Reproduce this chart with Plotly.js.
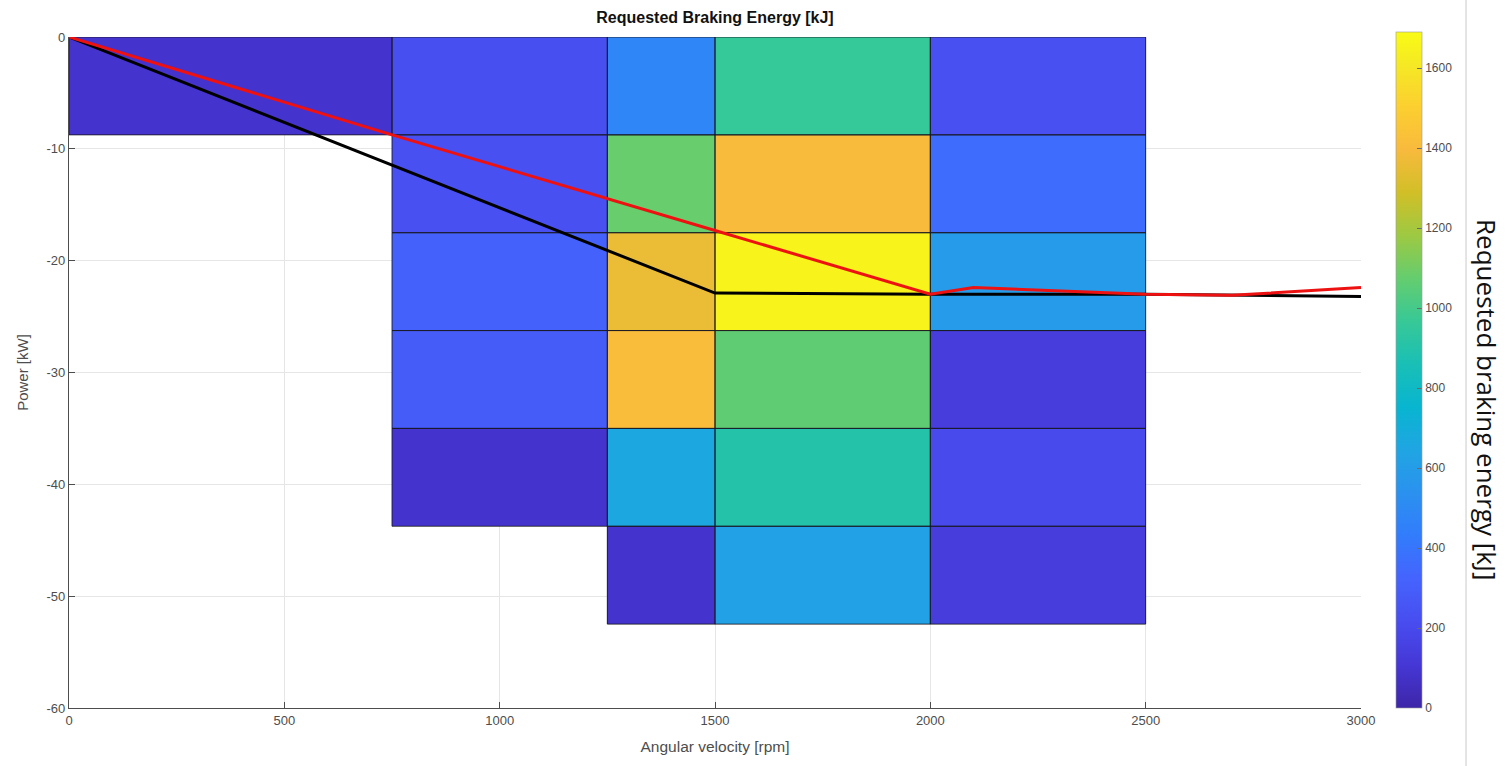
<!DOCTYPE html>
<html>
<head>
<meta charset="utf-8">
<script src="https://cdn.plot.ly/plotly-3.0.1.min.js"></script>
<style>
  html, body { margin: 0; padding: 0; background: #ffffff; }
  #chart { width: 1506px; height: 766px; }
</style>
</head>
<body>
<div id="chart"></div>
<script>
// Speed bin edges [rpm] and power bin edges [kW] (ascending)
const speedEdges = [0, 750, 1250, 1500, 2000, 2500];
const powerEdges = [-52.5, -43.75, -35, -26.25, -17.5, -8.75, 0];

// Requested braking energy per bin [kJ]; one row per power band, bottom band first.
// Columns follow the speed bins; null = no braking events in that bin.
const energyBand1 = [null, null, 85, 620, 135];     // -52.5 .. -43.75 kW
const energyBand2 = [null, 85, 660, 900, 200];      // -43.75 .. -35 kW
const energyBand3 = [null, 290, 1410, 1060, 135];   // -35 .. -26.25 kW
const energyBand4 = [null, 310, 1360, 1660, 590];   // -26.25 .. -17.5 kW
const energyBand5 = [null, 230, 1080, 1400, 360];   // -17.5 .. -8.75 kW
const energyBand6 = [85, 225, 480, 960, 230];       // -8.75 .. 0 kW

// Requested braking power curve (red) and available regenerative power limit (black)
const requestSpeed = [0, 750, 1500, 2000, 2100, 2500, 2700, 3000];
const requestPower = [0, -8.75, -17.3, -23.0, -22.4, -23.0, -23.1, -22.4];
const limitSpeed = [0, 1500, 2000, 2500, 3000];
const limitPower = [0, -22.9, -23.0, -23.0, -23.2];

// Axis ticks
const speedTicks = [0, 500, 1000, 1500, 2000, 2500, 3000];
const powerTicks = [-60, -50, -40, -30, -20, -10, 0];
const energyTicks = [0, 200, 400, 600, 800, 1000, 1200, 1400, 1600];

// Parula colormap samples
const parula = [
  [0.2422, 0.1504, 0.6603], [0.2706, 0.2147, 0.8364], [0.2813, 0.3006, 0.9414],
  [0.2699, 0.3892, 0.9906], [0.1963, 0.4847, 0.9892], [0.1687, 0.5703, 0.9359],
  [0.1248, 0.6459, 0.8883], [0.0297, 0.7082, 0.8163], [0.0964, 0.7500, 0.7120],
  [0.2161, 0.7843, 0.5923], [0.3909, 0.8029, 0.4354], [0.6174, 0.7876, 0.2612],
  [0.8203, 0.7498, 0.1535], [0.9728, 0.7298, 0.2394], [0.9892, 0.8136, 0.1885],
  [0.9597, 0.9135, 0.1423], [0.9769, 0.9839, 0.0805]
];
const parulaPos = [0, 4, 8, 12, 16, 20, 24, 28, 32, 36, 40, 44, 48, 52, 56, 60, 63];
const colorscale = parula.map((c, i) => [parulaPos[i] / 63,
  'rgb(' + c.map(v => Math.round(v * 255)).join(',') + ')']);

const zGrid = [energyBand1, energyBand2, energyBand3, energyBand4, energyBand5, energyBand6];

// Cell outlines for every populated bin
const edgeX = [], edgeY = [];
zGrid.forEach((row, r) => {
  row.forEach((v, c) => {
    if (v === null) return;
    const x0 = speedEdges[c], x1 = speedEdges[c + 1];
    const y0 = powerEdges[r], y1 = powerEdges[r + 1];
    edgeX.push(x0, x1, x1, x0, x0, null);
    edgeY.push(y0, y0, y1, y1, y0, null);
  });
});

const tickFont = { family: 'Liberation Sans, Arial, sans-serif', size: 13, color: '#4d4d4d' };

const traces = [
  {
    type: 'heatmap',
    x: speedEdges,
    y: powerEdges,
    z: zGrid,
    zmin: 0,
    zmax: 1690,
    colorscale: colorscale,
    hoverongaps: false,
    hoverinfo: 'skip',
    colorbar: {
      x: 1.027, xanchor: 'left', xpad: 0,
      y: 0, yanchor: 'bottom', ypad: 0,
      lenmode: 'pixels', len: 676,
      thickness: 26,
      outlinewidth: 0.6, outlinecolor: '#9a9a9a',
      tickvals: energyTicks,
      ticktext: energyTicks.map(String),
      ticks: 'inside', ticklen: 5, tickcolor: '#6a6a6a',
      tickfont: { family: 'Liberation Sans, Arial, sans-serif', size: 12, color: '#4d4d4d' }
    }
  },
  {
    type: 'scatter', mode: 'lines',
    x: edgeX, y: edgeY,
    line: { color: 'rgba(25,25,35,0.85)', width: 1 },
    hoverinfo: 'skip', showlegend: false
  },
  {
    type: 'scatter', mode: 'lines',
    x: limitSpeed, y: limitPower,
    line: { color: '#000000', width: 3 },
    showlegend: false
  },
  {
    type: 'scatter', mode: 'lines',
    x: requestSpeed, y: requestPower,
    line: { color: '#ee1111', width: 3 },
    showlegend: false
  }
];

const layout = {
  width: 1506,
  height: 766,
  margin: { l: 69, r: 145, t: 37, b: 58 },
  paper_bgcolor: '#ffffff',
  plot_bgcolor: '#ffffff',
  showlegend: false,
  title: {
    text: '<b>Requested Braking Energy [kJ]</b>',
    x: 0.5, xref: 'paper', xanchor: 'center',
    y: 1, yref: 'container', yanchor: 'top', pad: { t: 12 },
    font: { family: 'Liberation Sans Narrow, Liberation Sans, Arial, sans-serif', size: 16, color: '#111111' }
  },
  xaxis: {
    range: [0, 3000],
    tickvals: speedTicks,
    ticktext: speedTicks.map(String),
    ticks: 'inside', ticklen: 6, tickcolor: '#4d4d4d',
    showgrid: true, gridcolor: '#e6e6e6', gridwidth: 1,
    zeroline: false,
    showline: true, linecolor: '#4d4d4d', linewidth: 1.2,
    mirror: false,
    tickfont: tickFont,
    title: { text: 'Angular velocity [rpm]', standoff: 14,
      font: { family: 'Liberation Sans, Arial, sans-serif', size: 15.5, color: '#4d4d4d' } }
  },
  yaxis: {
    range: [-60, 0],
    tickvals: powerTicks,
    ticktext: powerTicks.map(String),
    ticks: 'inside', ticklen: 6, tickcolor: '#4d4d4d',
    showgrid: true, gridcolor: '#e6e6e6', gridwidth: 1,
    zeroline: false,
    showline: true, linecolor: '#4d4d4d', linewidth: 1.2,
    mirror: false,
    tickfont: tickFont,
    title: { text: 'Power [kW]', standoff: 14,
      font: { family: 'Liberation Sans, Arial, sans-serif', size: 15, color: '#4d4d4d' } }
  },
  annotations: [
    {
      text: 'Requested braking energy [kJ]',
      xref: 'paper', yref: 'paper',
      x: 1.0975, y: 0.459,
      xanchor: 'center', yanchor: 'middle',
      textangle: 90,
      showarrow: false,
      font: { family: 'Open Sans, Noto Sans, sans-serif', size: 26, color: '#111111' }
    }
  ],
  shapes: [
    {
      type: 'line', xref: 'paper', yref: 'paper',
      x0: 1.0813, x1: 1.0813, y0: -0.1, y1: 1.06,
      line: { color: '#dcdcdc', width: 1.5 }
    }
  ]
};

Plotly.newPlot('chart', traces, layout, { displayModeBar: false, staticPlot: true });
</script>
</body>
</html>
